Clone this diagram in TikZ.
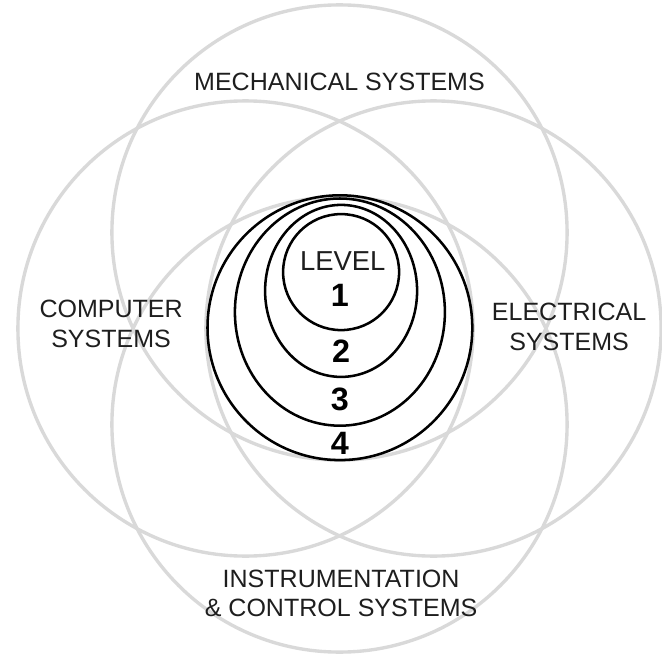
\documentclass[tikz,border=0pt]{standalone}
\usepackage{fontspec}
\setmainfont{Liberation Sans}
\usepackage{tikz}
\definecolor{ringgray}{HTML}{D9D9D9}
\definecolor{inkdark}{HTML}{1E1E1E}
\tikzset{
  sysring/.style={draw=ringgray,line width=2.4pt},
  lvlring/.style={draw=black,line width=1.8pt},
  syslabel/.style={align=center,inner sep=0pt,text=inkdark,font=\fontsize{17.8}{21}\selectfont},
  lvltext/.style={inner sep=0pt,text=inkdark,font=\fontsize{19.5}{22}\selectfont},
  lvlnum/.style={inner sep=0pt,text=black,font=\fontsize{23}{26}\selectfont\bfseries},
}

\begin{document}
\begin{tikzpicture}
  \useasboundingbox (-8.4875,-8.2125) rectangle (8.0625,8.2125);
  % the four system fields
  \draw[sysring] (0,2.40) circle (5.69);
  \draw[sysring] (-2.35,0) circle (5.69);
  \draw[sysring] (2.35,0) circle (5.69);
  \draw[sysring] (0,-2.40) circle (5.69);
  % nested levels
  \draw[lvlring] (0.04,1.41) circle (1.45);
  \draw[lvlring] (0.04,0.94) ellipse (1.90 and 2.15);
  \draw[lvlring] (0.01,0.41) ellipse (2.625 and 2.84);
  \draw[lvlring] (0.01,0.02) circle (3.31);
  \node[syslabel] (mech) at (0.00,6.16) {MECHANICAL SYSTEMS};
  \node[syslabel] (comp) at (-5.71,0.12) {COMPUTER\\SYSTEMS};
  \node[syslabel] (elec) at (5.74,0.04) {ELECTRICAL\\SYSTEMS};
  \node[syslabel] (inst) at (0.04,-6.62) {INSTRUMENTATION\\\& CONTROL SYSTEMS};
  \node[lvltext] (lvl) at (0.08,1.69) {LEVEL};
  \node[lvlnum] (l1) at (0.01,0.84) {1};
  \node[lvlnum] (l2) at (0.04,-0.56) {2};
  \node[lvlnum] (l3) at (0.01,-1.76) {3};
  \node[lvlnum] (l4) at (0.01,-2.86) {4};
\end{tikzpicture}
\end{document}
